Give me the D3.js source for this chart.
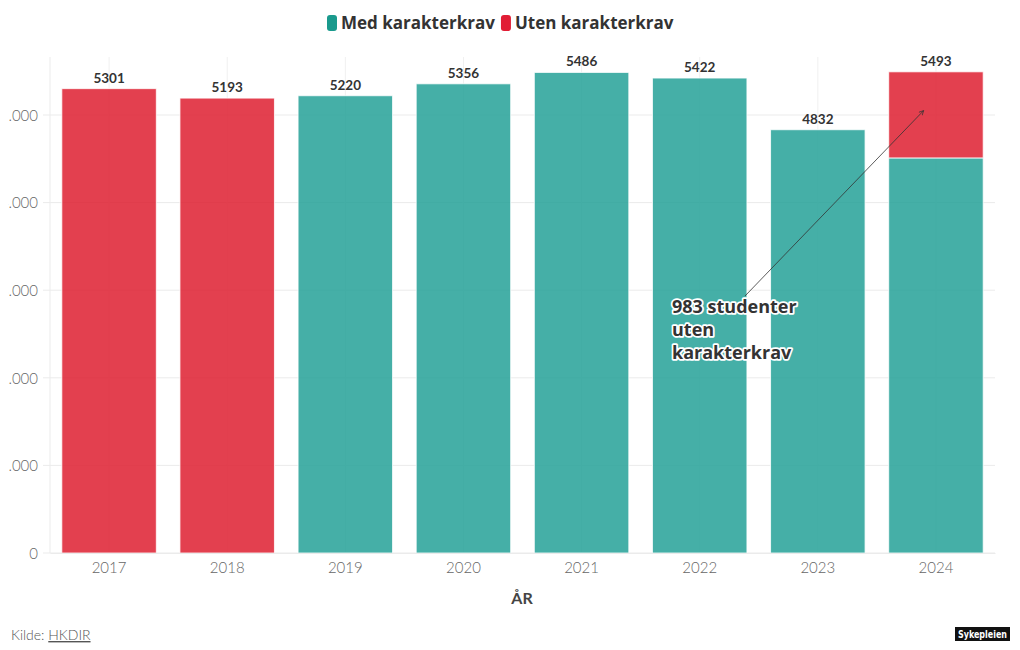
<!DOCTYPE html>
<html><head><meta charset="utf-8">
<script src="https://cdn.jsdelivr.net/npm/d3@7"></script>
<style>
html,body{margin:0;padding:0;background:#fff;}
svg{display:block;font-family:Lato,"Open Sans",sans-serif;}
</style></head>
<body>
<svg id="chart" width="1020" height="650"></svg>
<script>
const years = ["2017","2018","2019","2020","2021","2022","2023","2024"];
const medKarakterkrav = [0, 0, 5220, 5356, 5486, 5422, 4832, 4510];
const utenKarakterkrav = [5301, 5193, 0, 0, 0, 0, 0, 983];
const totals = [5301, 5193, 5220, 5356, 5486, 5422, 4832, 5493];
const yTicks = [0, 1000, 2000, 3000, 4000, 5000];
const seriesNames = ["Med karakterkrav", "Uten karakterkrav"];
const annotationLines = ["983 studenter", "uten", "karakterkrav"];

const colors = {"Med karakterkrav": "#25a198", "Uten karakterkrav": "#de1e30"};
const legendColors = {"Med karakterkrav": "#1a9a8d", "Uten karakterkrav": "#e11d35"};

const svg = d3.select("#chart");
const x = d3.scaleBand().domain(years).range([50, 995]).paddingInner(0.2).paddingOuter(0.1);
const y = d3.scaleLinear().domain([0, 5000]).range([553, 115]);
const yTop = 57;

svg.append("defs").append("clipPath").attr("id","leftclip")
  .append("rect").attr("x",8.5).attr("y",0).attr("width",1011).attr("height",650);

// grid
const grid = svg.append("g");
grid.selectAll("line.h").data(yTicks).join("line")
  .attr("x1", 43).attr("x2", 995)
  .attr("y1", d => y(d)).attr("y2", d => y(d))
  .attr("stroke", "#ebebeb").attr("stroke-width", 1);
grid.selectAll("line.v").data(years).join("line")
  .attr("x1", d => x(d) + x.bandwidth()/2).attr("x2", d => x(d) + x.bandwidth()/2)
  .attr("y1", yTop).attr("y2", 553)
  .attr("stroke", "#f0f0f0").attr("stroke-width", 1);
grid.append("line").attr("x1",50).attr("x2",50).attr("y1",yTop).attr("y2",553)
  .attr("stroke","#ebebeb");

// y axis labels (left part clipped as in the reference)
const yAxis = d3.axisLeft(y).tickValues(yTicks).tickSize(0).tickPadding(0)
  .tickFormat(d => d === 0 ? "0" : d3.format(",")(d).replace(/,/g, "."));
const yWrap = svg.append("g").attr("clip-path","url(#leftclip)");
const yg = yWrap.append("g").attr("transform","translate(38,0)").call(yAxis);
yg.select(".domain").remove();
yg.selectAll("text").attr("font-size", 15).attr("font-weight", 300).attr("fill", "#666")
  .attr("font-family","Lato,sans-serif").attr("dy","0.35em");

// stacked data
const table = years.map((yr, i) => ({year: yr, "Med karakterkrav": medKarakterkrav[i], "Uten karakterkrav": utenKarakterkrav[i]}));
const stack = d3.stack().keys(seriesNames)(table);
svg.append("g").selectAll("g").data(stack).join("g")
  .attr("fill", d => colors[d.key]).attr("fill-opacity", 0.85)
  .selectAll("rect").data(d => d.filter(p => p[1] - p[0] > 0)).join("rect")
  .attr("x", d => x(d.data.year)).attr("width", x.bandwidth())
  .attr("y", d => y(d[1])).attr("height", d => y(d[0]) - y(d[1]))
  .attr("stroke", "#fff").attr("stroke-width", 1).attr("stroke-opacity", 0.8);

// value labels
svg.append("g").selectAll("text").data(years).join("text")
  .attr("x", d => x(d) + x.bandwidth()/2)
  .attr("y", (d, i) => y(totals[i]) - 6)
  .attr("text-anchor", "middle").attr("font-size", 13.5).attr("font-weight", 700)
  .attr("fill", "#333").text((d, i) => totals[i]);

// x axis
const xAxis = d3.axisBottom(x).tickSize(0).tickPadding(0);
const xg = svg.append("g").attr("transform", "translate(0,553)").call(xAxis);
xg.select(".domain").attr("stroke", "#ebebeb");
xg.selectAll("text").attr("font-size", 15).attr("font-weight", 300).attr("fill", "#666")
  .attr("font-family","Lato,sans-serif").attr("dy", "1.35em");

svg.append("text").attr("x", 522).attr("y", 604).attr("text-anchor","middle")
  .attr("font-size", 16).attr("font-weight", 700).attr("fill", "#444").text("ÅR");

// annotation arrow
svg.append("defs").append("marker").attr("id","arrow").attr("viewBox","0 0 10 10")
  .attr("refX", 9).attr("refY", 5).attr("markerWidth", 7).attr("markerHeight", 7)
  .attr("orient","auto")
  .append("path").attr("d","M1,1 L9,5 L1,9").attr("fill","none").attr("stroke","#333").attr("stroke-width",1.3);
const i24 = years.indexOf("2024");
svg.append("line")
  .attr("x1", 745).attr("y1", 296)
  .attr("x2", x("2024") + x.bandwidth()*0.37).attr("y2", y(medKarakterkrav[i24] + utenKarakterkrav[i24]*0.55))
  .attr("stroke", "#333").attr("stroke-width", 0.8).attr("marker-end","url(#arrow)");

const ann = svg.append("text").attr("x", 672).attr("y", 313)
  .attr("font-size", 18).attr("font-weight", 700).attr("fill", "#333")
  .attr("font-family","'Open Sans',sans-serif")
  .attr("stroke", "#fff").attr("stroke-width", 3.5).attr("paint-order", "stroke")
  .attr("stroke-linejoin","round");
annotationLines.forEach((t, i) => ann.append("tspan").attr("x", 672).attr("dy", i ? 23 : 0).text(t));

// legend
const legend = svg.append("g");
let lx = 327;
seriesNames.forEach(name => {
  legend.append("rect").attr("x", lx).attr("y", 15).attr("width", 10).attr("height", 16)
    .attr("rx", 3).attr("fill", legendColors[name]);
  const t = legend.append("text").attr("x", lx + 14).attr("y", 29)
    .attr("font-size", 17).attr("font-weight", 700).attr("fill", "#333")
    .attr("font-family","'Open Sans',sans-serif").text(name);
  lx += 14 + t.node().getComputedTextLength() + 6;
});

// footer
const src = svg.append("text").attr("x", 11).attr("y", 640).attr("font-size", 14)
  .attr("font-weight", 300).attr("fill", "#555");
src.append("tspan").text("Kilde: ");
src.append("tspan").attr("text-decoration","underline").text("HKDIR");

svg.append("rect").attr("x", 955).attr("y", 627).attr("width", 55).attr("height", 14).attr("fill", "#111");
svg.append("text").attr("x", 982.5).attr("y", 638).attr("text-anchor","middle")
  .attr("font-size", 10).attr("font-weight", 700).attr("fill", "#fff")
  .attr("font-family","'Liberation Sans Narrow','DejaVu Sans Condensed',sans-serif")
  .attr("textLength", 49).attr("lengthAdjust","spacingAndGlyphs")
  .text("Sykepleien");
</script>
</body></html>
